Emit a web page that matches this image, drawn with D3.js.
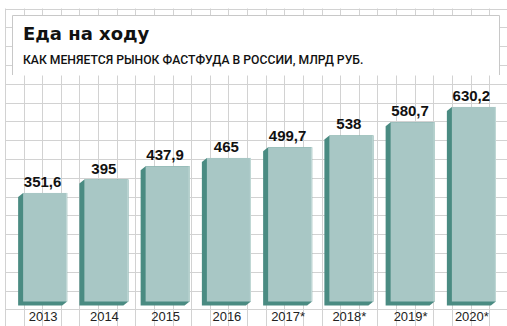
<!DOCTYPE html>
<html>
<head>
<meta charset="utf-8">
<script src="https://cdn.jsdelivr.net/npm/d3@7"></script>
<style>
  body { margin: 0; background: #fff; }
  svg { display: block; }
</style>
</head>
<body>
<svg id="chart" width="507" height="326"></svg>
<script>
"use strict";

var years = ["2013", "2014", "2015", "2016", "2017*", "2018*", "2019*", "2020*"]
var values = [351.6, 395, 437.9, 465, 499.7, 538, 580.7, 630.2]
var valueLabels = ["351,6", "395", "437,9", "465", "499,7", "538", "580,7", "630,2"]

var title = "Еда на ходу"
var subtitle = "КАК МЕНЯЕТСЯ РЫНОК ФАСТФУДА В РОССИИ, МЛРД РУБ."

var svg = d3.select("#chart")
var width = +svg.attr("width")
var height = +svg.attr("height")

var data = years.map((y, i) => ({ year: y, value: values[i], label: valueLabels[i] }))

// background grid
var gridColor = "#d2d2d2"
var grid = svg.append("g").attr("class", "grid")
var gx = d3.range(5, width, 18.62)
var gy = d3.range(8.5, 312, 18.8)

grid.selectAll(".vl").data(gx).enter().append("line")
    .attr("x1", d => Math.round(d) + 0.5).attr("x2", d => Math.round(d) + 0.5)
    .attr("y1", 8.5).attr("y2", height)
    .attr("stroke", gridColor)
grid.selectAll(".hl").data(gy).enter().append("line")
    .attr("x1", 5).attr("x2", width)
    .attr("y1", d => Math.round(d) + 0.5).attr("y2", d => Math.round(d) + 0.5)
    .attr("stroke", gridColor)

// title box
var box = svg.append("g")
box.append("rect")
    .attr("x", 12.5).attr("y", 15.5)
    .attr("width", 487).attr("height", 60)
    .attr("fill", "#fff")
box.append("path")
    .attr("d", "M12.5,75V15.5H499.5V75")
    .attr("fill", "none")
    .attr("stroke", "#c8c8c8")

box.append("text")
    .attr("x", 23).attr("y", 40)
    .style("font-family", "'DejaVu Sans', sans-serif")
    .style("font-weight", "bold")
    .style("font-size", "18px")
    .attr("fill", "#111")
    .text(title)

box.append("text")
    .attr("x", 23).attr("y", 64)
    .style("font-family", "Roboto, 'Noto Sans', sans-serif")
    .style("font-weight", "500")
    .style("font-size", "12.2px")
    .attr("fill", "#111")
    .text(subtitle)

// scales
var x = d3.scalePoint().domain(years).range([12, 502]).padding(0.5)
var y = d3.scaleLinear().domain([0, 700]).range([301.5, 85.4])

var faceW = 44, depthX = 5, depthY = 4
var faceLeft = d => x(d.year) - (faceW + depthX) / 2 + depthX

var bars = svg.append("g").attr("class", "bars")

bars.selectAll(".side")
    .data(data)
    .enter().append("path")
    .attr("class", "side")
    .attr("fill", "#4a8b82")
    .attr("d", d => {
        var l = faceLeft(d), r = l + faceW, t = y(d.value), b = y(0)
        return "M" + l + "," + t +
            "L" + (l - depthX) + "," + (t + depthY) +
            "L" + (l - depthX) + "," + (b + depthY) +
            "L" + (r - depthX) + "," + (b + depthY) +
            "L" + r + "," + b +
            "L" + r + "," + t + "Z"
    })

bars.selectAll(".face")
    .data(data)
    .enter().append("rect")
    .attr("class", "face")
    .attr("fill", "#a8c7c5")
    .attr("x", d => faceLeft(d))
    .attr("y", d => y(d.value))
    .attr("width", faceW)
    .attr("height", d => y(0) - y(d.value))

bars.selectAll(".edge")
    .data(data)
    .enter().append("line")
    .attr("class", "edge")
    .attr("stroke", "#c4dad8")
    .attr("x1", d => faceLeft(d) + faceW - 0.5)
    .attr("x2", d => faceLeft(d) + faceW - 0.5)
    .attr("y1", d => y(d.value))
    .attr("y2", y(0))

bars.selectAll(".val")
    .data(data)
    .enter().append("text")
    .attr("class", "val")
    .attr("x", d => x(d.year))
    .attr("y", d => y(d.value) - 6)
    .attr("text-anchor", "middle")
    .style("font-family", "'Liberation Sans', Arial, sans-serif")
    .style("font-weight", "bold")
    .style("font-size", "15px")
    .attr("fill", "#111")
    .text(d => d.label)

// x axis labels
var xAxis = d3.axisBottom(x).tickSize(0).tickPadding(0)
svg.append("g")
    .attr("class", "x axis")
    .attr("transform", "translate(0,312)")
    .call(xAxis)
    .call(g => g.select(".domain").remove())
  .selectAll("text")
    .attr("dy", "0.71em")
    .style("font-family", "'Liberation Sans Narrow', 'Arial Narrow', sans-serif")
    .style("font-stretch", "condensed")
    .style("font-size", "13px")
    .attr("fill", "#222")
</script>
</body>
</html>
